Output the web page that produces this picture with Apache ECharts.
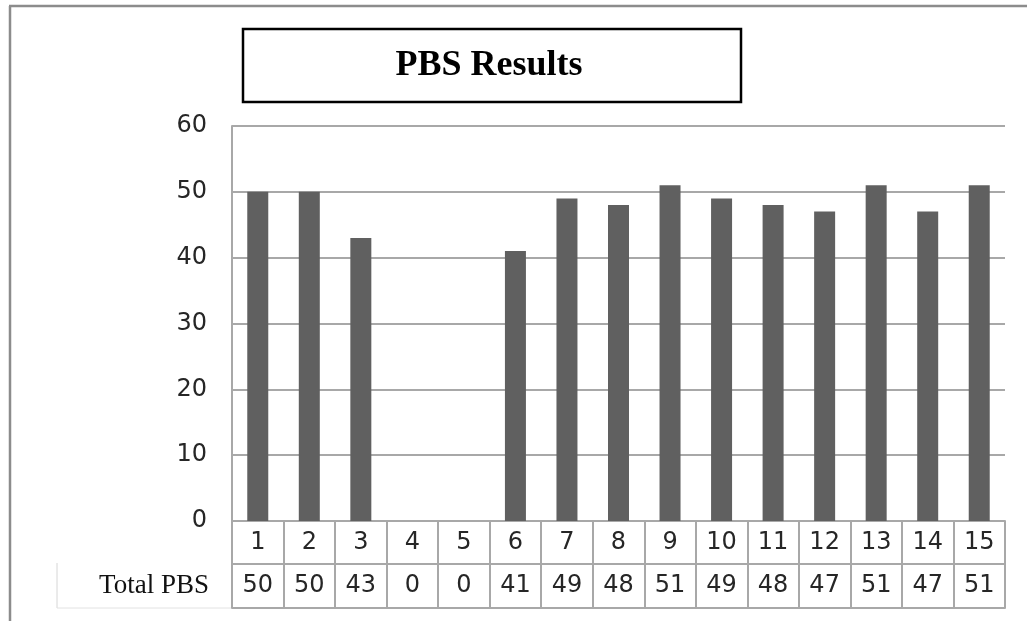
<!DOCTYPE html>
<html>
<head>
<meta charset="utf-8">
<title>PBS Results</title>
<script src="https://cdn.jsdelivr.net/npm/echarts@6/dist/echarts.min.js"></script>
<style>
  html, body { margin: 0; padding: 0; background: #ffffff; }
  #chart { width: 1027px; height: 621px; }
</style>
</head>
<body>
<div id="chart"></div>
<script>
// Weekly sample numbers and their PBS totals
const categories = ['1', '2', '3', '4', '5', '6', '7', '8', '9', '10', '11', '12', '13', '14', '15'];
const totalPBS = [50, 50, 43, 0, 0, 41, 49, 48, 51, 49, 48, 47, 51, 47, 51];
const rowLabel = 'Total PBS';
const titleText = 'PBS Results';
const yTicks = { min: 0, max: 60, interval: 10 };

const gridGray = '#a8a8a8';
const labelFont = '"DejaVu Sans", "Open Sans", sans-serif';
const serifFont = '"Liberation Serif", "DejaVu Serif", serif';
const labelSize = 24;

const chart = echarts.init(document.getElementById('chart'), null, { renderer: 'canvas' });

chart.setOption({
  animation: false,
  backgroundColor: '#ffffff',
  grid: { left: 232, right: 22, top: 126, bottom: 100, containLabel: false },
  xAxis: [
    {
      // header row of the data table: category numbers
      type: 'category',
      data: categories,
      position: 'bottom',
      boundaryGap: true,
      axisLine: { show: true, lineStyle: { color: gridGray, width: 2 } },
      axisTick: { show: true, length: 87, lineStyle: { color: gridGray, width: 2 } },
      axisLabel: {
        show: true, margin: 9, fontFamily: labelFont, fontSize: labelSize,
        lineHeight: 26, color: '#262626'
      },
      splitLine: { show: false }
    },
    {
      // value row of the data table
      type: 'category',
      data: categories,
      position: 'bottom',
      offset: 43,
      boundaryGap: true,
      axisLine: { show: true, lineStyle: { color: gridGray, width: 2 } },
      axisTick: { show: false },
      axisLabel: {
        show: true, margin: 9, fontFamily: labelFont, fontSize: labelSize,
        lineHeight: 26, color: '#262626',
        formatter: (v, i) => String(totalPBS[i])
      },
      splitLine: { show: false }
    },
    {
      // bottom edge of the data table
      type: 'category',
      data: categories,
      position: 'bottom',
      offset: 87,
      axisLine: { show: true, lineStyle: { color: gridGray, width: 2 } },
      axisTick: { show: false },
      axisLabel: { show: false },
      splitLine: { show: false }
    }
  ],
  yAxis: {
    type: 'value',
    min: yTicks.min,
    max: yTicks.max,
    interval: yTicks.interval,
    axisLine: { show: true, lineStyle: { color: gridGray, width: 2 } },
    axisTick: { show: false },
    axisLabel: {
      margin: 25, fontFamily: labelFont, fontSize: labelSize, color: '#262626'
    },
    splitLine: { show: true, lineStyle: { color: gridGray, width: 2 } }
  },
  series: [
    {
      name: rowLabel,
      type: 'bar',
      xAxisIndex: 0,
      data: totalPBS,
      barWidth: 21,
      itemStyle: { color: '#606060' }
    }
  ],
  graphic: [
    // outer frame (top and left edges)
    { type: 'line', shape: { x1: 9, y1: 6, x2: 1027, y2: 6 }, style: { stroke: '#8c8c8c', lineWidth: 2.5 }, silent: true },
    { type: 'line', shape: { x1: 10, y1: 6, x2: 10, y2: 621 }, style: { stroke: '#8c8c8c', lineWidth: 2.5 }, silent: true },
    // title box
    { type: 'rect', shape: { x: 243, y: 29, width: 498, height: 73 }, style: { fill: '#ffffff', stroke: '#000000', lineWidth: 2.5 }, silent: true },
    {
      type: 'text', x: 489, y: 66, silent: true,
      style: {
        text: titleText, fontFamily: serifFont, fontWeight: 'bold', fontSize: 36,
        fill: '#000000', align: 'center', verticalAlign: 'middle'
      }
    },
    // row header cell of the data table
    { type: 'line', shape: { x1: 57, y1: 563, x2: 57, y2: 608 }, style: { stroke: '#d6d6d6', lineWidth: 1 }, silent: true },
    { type: 'line', shape: { x1: 57, y1: 608, x2: 231, y2: 608 }, style: { stroke: '#e2e2e2', lineWidth: 1 }, silent: true },
    {
      type: 'text', x: 209, y: 586, silent: true,
      style: {
        text: rowLabel, fontFamily: serifFont, fontSize: 27,
        fill: '#111111', align: 'right', verticalAlign: 'middle'
      }
    }
  ]
});
</script>
</body>
</html>
